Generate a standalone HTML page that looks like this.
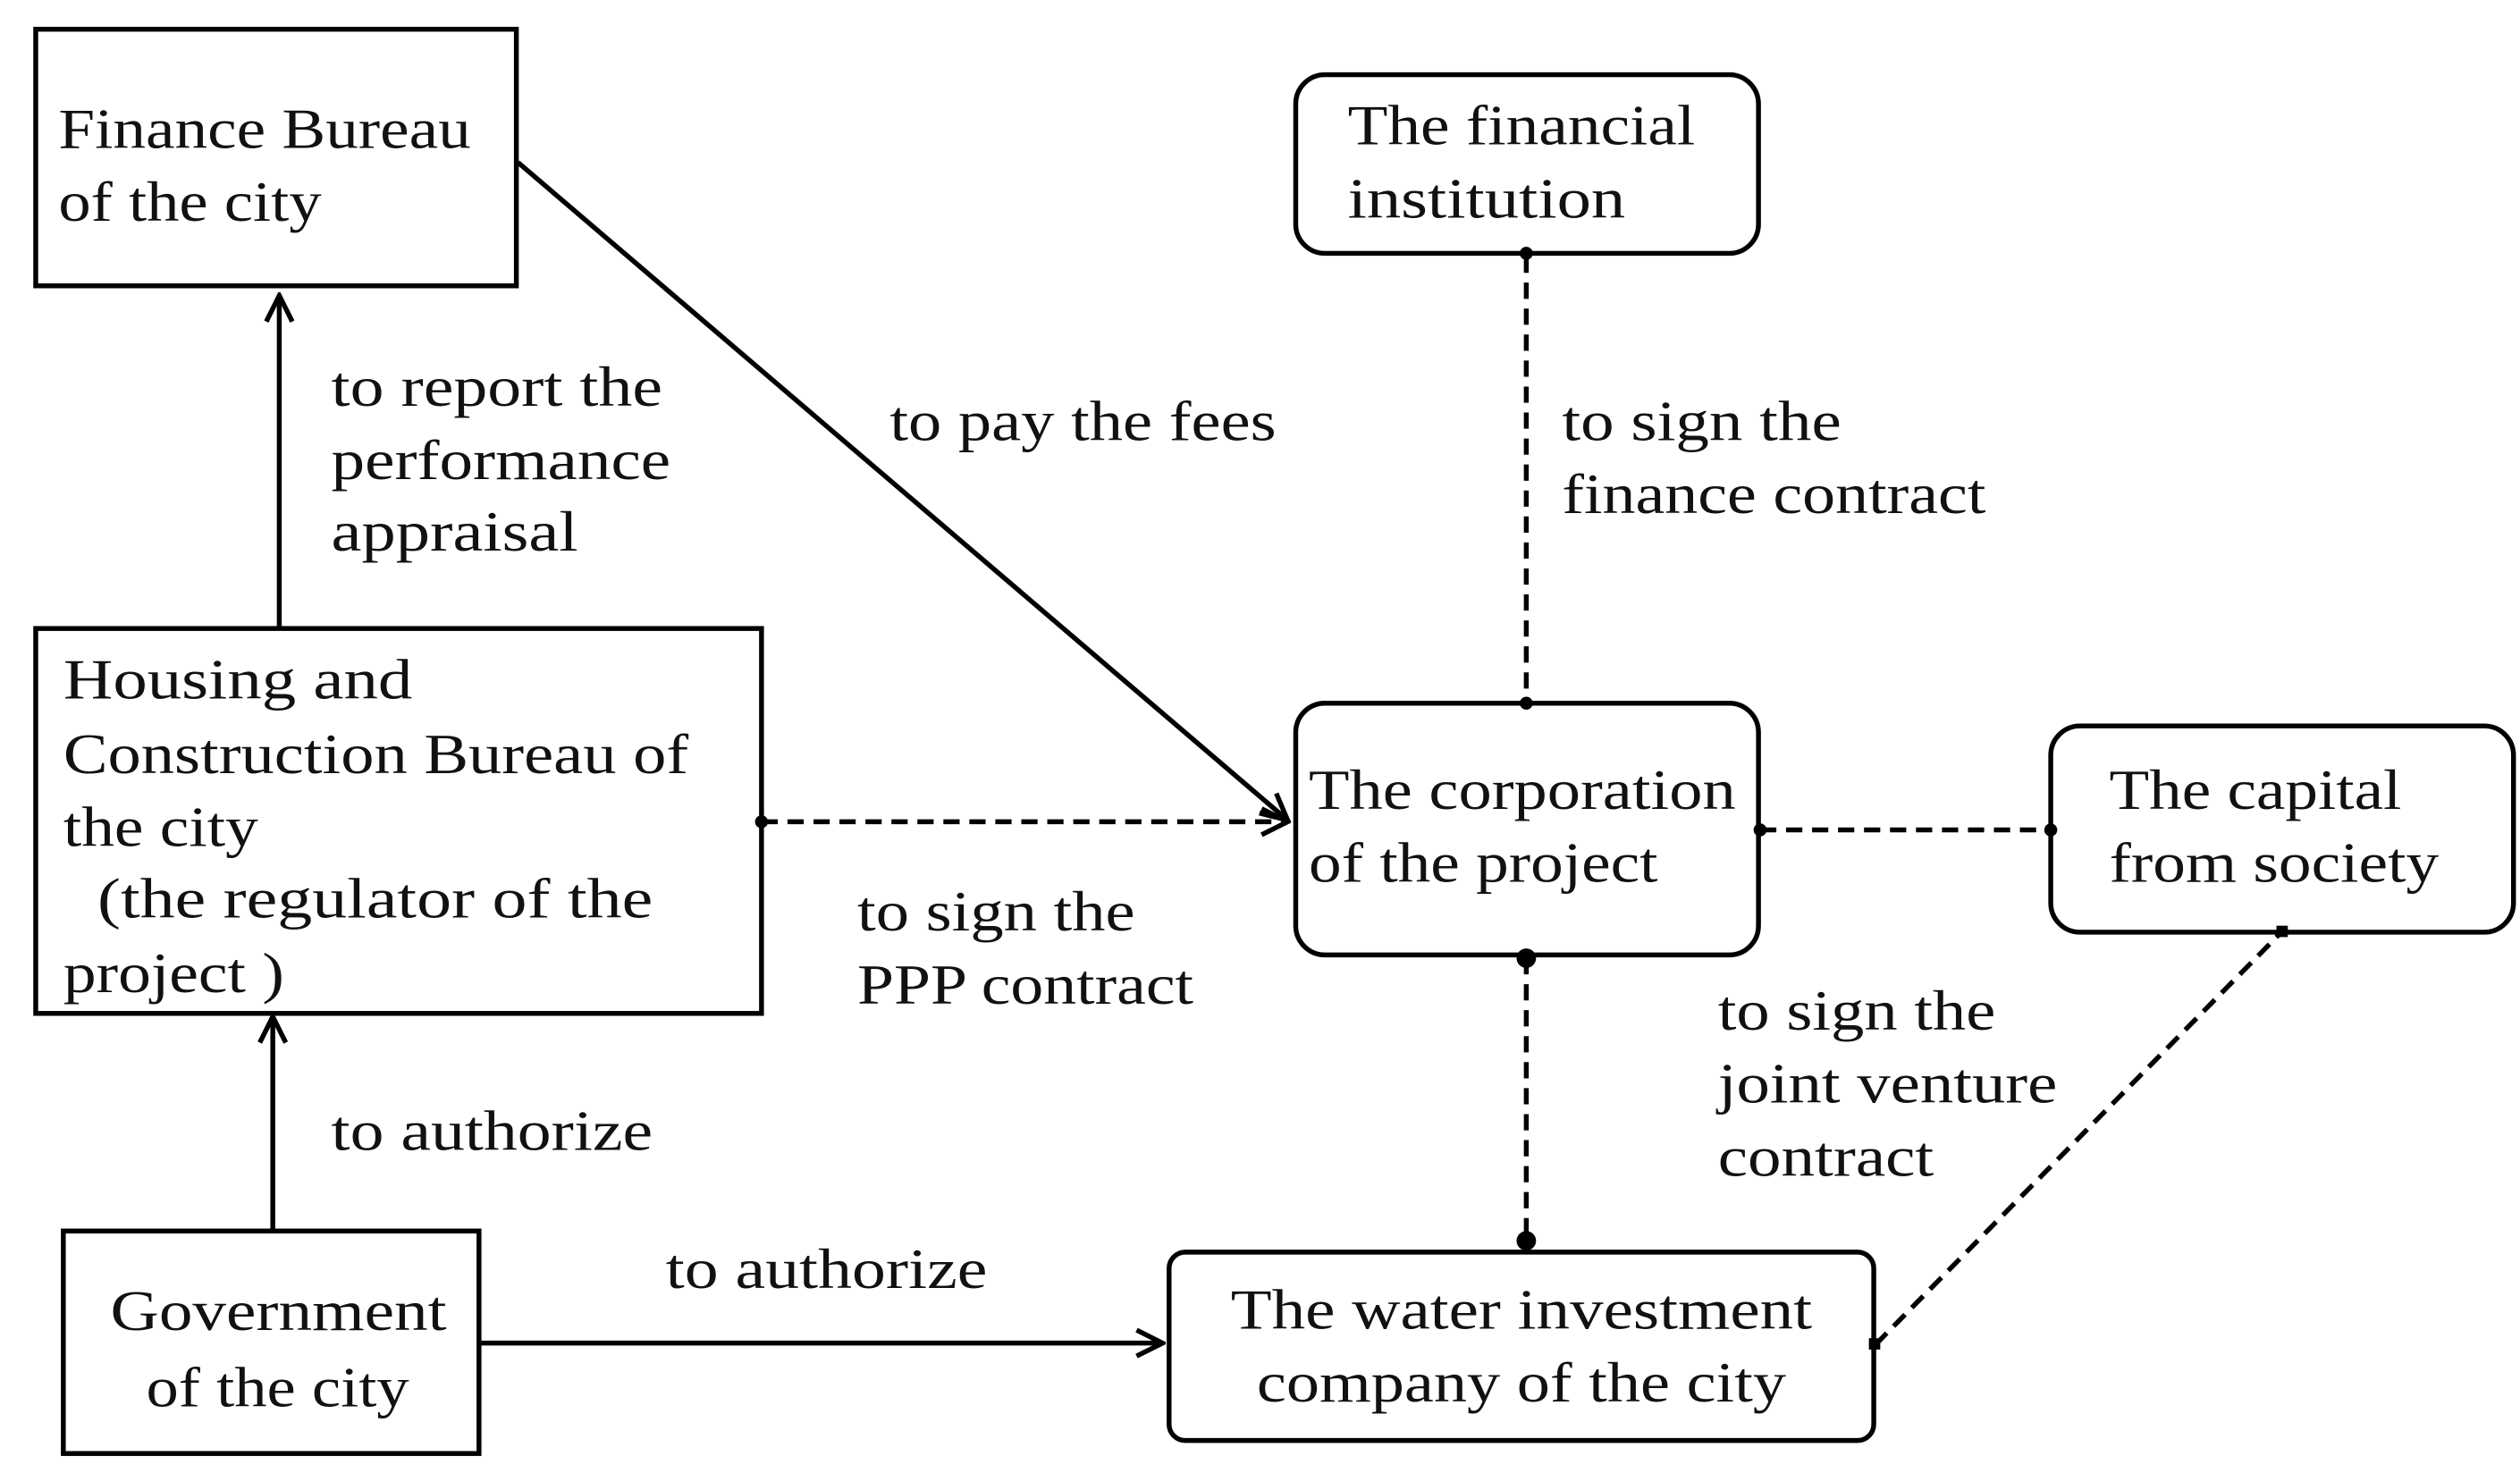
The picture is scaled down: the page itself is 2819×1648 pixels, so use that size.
<!DOCTYPE html>
<html><head><meta charset="utf-8"><style>
html,body{margin:0;padding:0;background:#fff;}
svg{display:block;}
text{font-family:"Liberation Serif",serif;font-size:35px;fill:#111;}
</style></head><body>
<svg width="2819" height="1648" viewBox="0 0 1552 907" preserveAspectRatio="none" xmlns="http://www.w3.org/2000/svg">
<defs>
<marker id="a" viewBox="0 0 20 20" refX="18" refY="10" markerWidth="20" markerHeight="20" markerUnits="userSpaceOnUse" orient="auto">
<path d="M2,2 L18,10 L2,18" fill="none" stroke="#000" stroke-width="3"/>
</marker>
</defs>
<g fill="none" stroke="#000" stroke-width="3">
<rect x="22" y="18" width="296" height="158"/>
<rect x="22" y="387" width="447" height="237"/>
<rect x="39" y="758" width="256" height="137"/>
<rect x="798" y="46" width="285" height="110" rx="18"/>
<rect x="798" y="433" width="285" height="155" rx="18"/>
<rect x="1263" y="447" width="285" height="127" rx="18"/>
<rect x="720" y="771" width="434" height="116" rx="10"/>
<line x1="172" y1="386" x2="172" y2="182" marker-end="url(#a)"/>
<line x1="168" y1="757" x2="168" y2="626" marker-end="url(#a)"/>
<line x1="296" y1="827" x2="716" y2="827" marker-end="url(#a)"/>
<line x1="319" y1="100" x2="793" y2="505" marker-end="url(#a)"/>
<g stroke-dasharray="10,6">
<line x1="469" y1="506" x2="793" y2="506" marker-end="url(#a)"/>
<line x1="940" y1="158" x2="940" y2="432"/>
<line x1="940" y1="590" x2="940" y2="765"/>
<line x1="1084" y1="511" x2="1263" y2="511"/>
<line x1="1155" y1="828" x2="1405" y2="574"/>
</g>
</g>
<g fill="#000">
<circle cx="469" cy="506" r="4"/>
<circle cx="940" cy="156" r="4"/>
<circle cx="940" cy="433" r="4"/>
<circle cx="940" cy="590" r="6"/>
<circle cx="940" cy="764" r="6"/>
<circle cx="1084" cy="511" r="4"/>
<circle cx="1263" cy="511" r="4"/>
<rect x="1151" y="824" width="7" height="7"/>
<rect x="1402" y="570" width="7" height="7"/>
</g>
<text x="36" y="91" textLength="254" lengthAdjust="spacingAndGlyphs">Finance Bureau</text>
<text x="36" y="136" textLength="162" lengthAdjust="spacingAndGlyphs">of the city</text>
<text x="204" y="250" textLength="204" lengthAdjust="spacingAndGlyphs">to report the</text>
<text x="204" y="295" textLength="209" lengthAdjust="spacingAndGlyphs">performance</text>
<text x="204" y="339" textLength="152" lengthAdjust="spacingAndGlyphs">appraisal</text>
<text x="548" y="271" textLength="238" lengthAdjust="spacingAndGlyphs">to pay the fees</text>
<text x="830" y="89" textLength="214" lengthAdjust="spacingAndGlyphs">The financial</text>
<text x="830" y="134" textLength="171" lengthAdjust="spacingAndGlyphs">institution</text>
<text x="962" y="271" textLength="172" lengthAdjust="spacingAndGlyphs">to sign the</text>
<text x="962" y="316" textLength="261" lengthAdjust="spacingAndGlyphs">finance contract</text>
<text x="39" y="430" textLength="215" lengthAdjust="spacingAndGlyphs">Housing and</text>
<text x="39" y="476" textLength="385" lengthAdjust="spacingAndGlyphs">Construction Bureau of</text>
<text x="39" y="521" textLength="120" lengthAdjust="spacingAndGlyphs">the city</text>
<text x="60" y="565" textLength="342" lengthAdjust="spacingAndGlyphs">(the  regulator of the</text>
<text x="39" y="611" textLength="136" lengthAdjust="spacingAndGlyphs">project )</text>
<text x="806" y="498" textLength="263" lengthAdjust="spacingAndGlyphs">The corporation</text>
<text x="806" y="543" textLength="215" lengthAdjust="spacingAndGlyphs">of the project</text>
<text x="1299" y="498" textLength="180" lengthAdjust="spacingAndGlyphs">The capital</text>
<text x="1299" y="543" textLength="203" lengthAdjust="spacingAndGlyphs">from society</text>
<text x="528" y="573" textLength="171" lengthAdjust="spacingAndGlyphs">to sign the</text>
<text x="528" y="618" textLength="207" lengthAdjust="spacingAndGlyphs">PPP contract</text>
<text x="1058" y="634" textLength="171" lengthAdjust="spacingAndGlyphs">to sign the</text>
<text x="1058" y="679" textLength="209" lengthAdjust="spacingAndGlyphs">joint venture</text>
<text x="1058" y="724" textLength="133" lengthAdjust="spacingAndGlyphs">contract</text>
<text x="204" y="708" textLength="198" lengthAdjust="spacingAndGlyphs">to authorize</text>
<text x="410" y="793" textLength="198" lengthAdjust="spacingAndGlyphs">to authorize</text>
<text x="68" y="819" textLength="207" lengthAdjust="spacingAndGlyphs">Government</text>
<text x="90" y="866" textLength="162" lengthAdjust="spacingAndGlyphs">of the city</text>
<text x="758" y="818" textLength="358" lengthAdjust="spacingAndGlyphs">The water investment</text>
<text x="774" y="863" textLength="326" lengthAdjust="spacingAndGlyphs">company of the city</text>
</svg>
</body></html>
